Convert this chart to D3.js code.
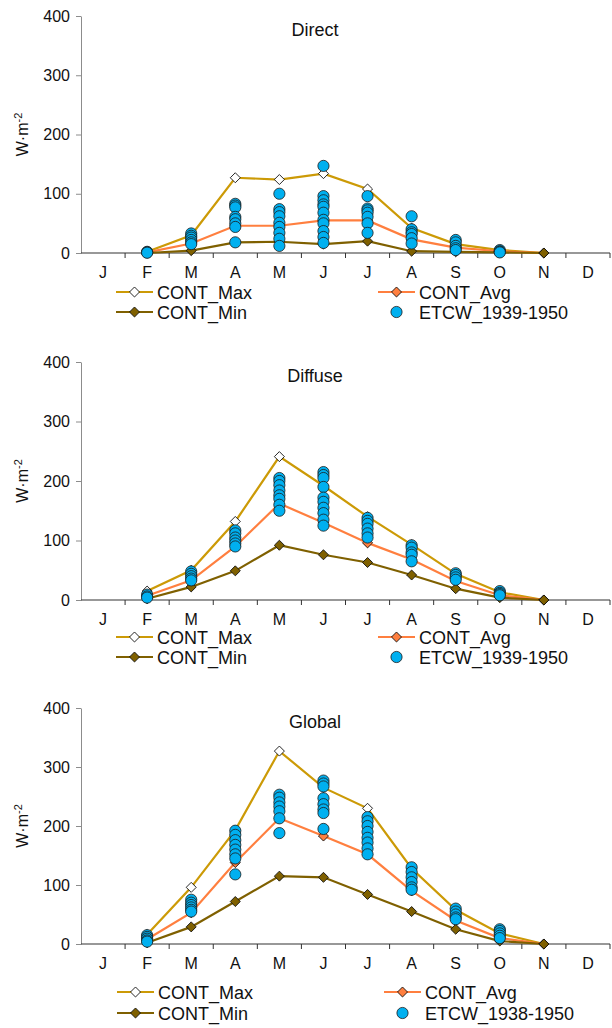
<!DOCTYPE html>
<html>
<head>
<meta charset="utf-8">
<script src="https://cdn.jsdelivr.net/npm/d3@7"></script>
<style>
  body { margin: 0; background: #fff; }
  svg { font-family: "Liberation Sans", Arial, sans-serif; }
</style>
</head>
<body>
<svg id="chart" width="612" height="1028"></svg>
<script>
// Month categories (values for J and D are missing)
const months = ["J", "F", "M", "A", "M", "J", "J", "A", "S", "O", "N", "D"];
const yTicks = [0, 100, 200, 300, 400];

// Direct
const directMax = [null, 2, 30, 127, 124, 134, 108, 42, 15, 5, 0, null];
const directAvg = [null, 1, 16, 46, 46, 55, 55, 23, 9, 3, 0, null];
const directMin = [null, 0, 4, 18, 19, 15, 20, 3, 2, 1, 0, null];
const directEtcw = [[], [2, 1, 0.5], [33, 29, 26, 22, 18, 15], [83, 80, 77, 61, 57, 50, 44, 18],
  [100, 74, 69, 62, 51, 44, 34, 24, 12], [147, 96, 89, 82, 78, 68, 56, 50, 37, 27, 17],
  [96, 75, 72, 68, 61, 50, 34], [62, 40, 35, 32, 25, 16], [22, 18, 12, 8, 5], [5, 3, 2, 1], [], []];

// Diffuse
const diffuseMax = [null, 15, 50, 132, 241, 192, 140, 93, 44, 13, 0, null];
const diffuseAvg = [null, 7, 33, 90, 162, 130, 96, 68, 32, 8, 0, null];
const diffuseMin = [null, 2, 22, 49, 92, 76, 63, 42, 19, 4, 0, null];
const diffuseEtcw = [[], [9, 6, 4], [48, 44, 40, 36, 33], [117, 112, 105, 100, 95, 90],
  [205, 200, 193, 184, 176, 170, 160, 150], [215, 210, 205, 190, 172, 165, 155, 146, 135, 125],
  [138, 133, 128, 120, 112, 105], [92, 88, 80, 76, 65], [45, 42, 38, 34], [15, 12, 10, 8], [], []];

// Global
const globalMax = [null, 16, 96, 193, 327, 265, 230, 128, 58, 18, 0, null];
const globalAvg = [null, 8, 53, 138, 213, 183, 152, 90, 40, 10, 0, null];
const globalMin = [null, 2, 29, 72, 115, 113, 84, 55, 25, 5, 0, null];
const globalEtcw = [[], [15, 12, 9, 6, 4], [75, 70, 66, 62, 58, 55], [192, 185, 176, 168, 160, 152, 145, 118],
  [253, 248, 240, 233, 225, 213, 188], [277, 272, 267, 247, 237, 228, 222, 195],
  [215, 208, 200, 190, 180, 172, 162, 152], [130, 122, 113, 105, 96, 92], [60, 55, 50, 45, 42],
  [25, 22, 18, 14, 10], [], []];

const panels = [
  { title: "Direct", max: directMax, avg: directAvg, min: directMin, etcw: directEtcw,
    etcwLabel: "ETCW_1939-1950", top: 16, bottom: 253, legY: [292, 312], legX: [116, 378] },
  { title: "Diffuse", max: diffuseMax, avg: diffuseAvg, min: diffuseMin, etcw: diffuseEtcw,
    etcwLabel: "ETCW_1939-1950", top: 362, bottom: 600, legY: [637, 657], legX: [116, 378] },
  { title: "Global", max: globalMax, avg: globalAvg, min: globalMin, etcw: globalEtcw,
    etcwLabel: "ETCW_1938-1950", top: 708, bottom: 944, legY: [992, 1013], legX: [117, 384] }
];

const colors = { max: "#CC9A06", avg: "#FF7F3F", min: "#7F6000", etcw: "#00B0F0" };
const left = 81, right = 610;

const svg = d3.select("#chart");
const x = d3.scaleBand().domain(d3.range(12)).range([left, right]);
const diamond = d3.symbol().type(d3.symbolDiamond2).size(64);

function drawDiamond(g, cx, cy, fill) {
  g.append("path")
    .attr("d", diamond)
    .attr("transform", `translate(${cx},${cy})`)
    .attr("fill", fill)
    .attr("stroke", "#111")
    .attr("stroke-width", 0.9);
}

panels.forEach((p) => {
  const g = svg.append("g");
  const y = d3.scaleLinear().domain([0, 400]).range([p.bottom, p.top]);

  // y axis
  const yAxis = g.append("g")
    .attr("transform", `translate(${left},0)`)
    .call(d3.axisLeft(y).tickValues(yTicks).tickSize(5).tickSizeOuter(0).tickPadding(6));
  yAxis.select(".domain").attr("stroke", "#8c8c8c");
  yAxis.selectAll(".tick line").attr("stroke", "#8c8c8c");
  yAxis.selectAll("text").attr("font-size", 16).attr("fill", "#111")
    .attr("font-family", "Liberation Sans, Arial, sans-serif");

  // x axis: line, ticks at category boundaries, month labels
  g.append("line")
    .attr("x1", left).attr("x2", right)
    .attr("y1", y(0)).attr("y2", y(0))
    .attr("stroke", "#333").attr("stroke-width", 1.2);
  g.selectAll(".xtick")
    .data(d3.range(1, 13))
    .join("line")
    .attr("x1", (i) => i < 12 ? x(i) : right)
    .attr("x2", (i) => i < 12 ? x(i) : right)
    .attr("y1", y(0)).attr("y2", y(0) + 5)
    .attr("stroke", "#333");
  g.selectAll(".month")
    .data(months)
    .join("text")
    .attr("x", (d, i) => x(i) + x.bandwidth() / 2)
    .attr("y", y(0) + 25)
    .attr("text-anchor", "middle")
    .attr("font-size", 16)
    .attr("fill", "#111")
    .text((d) => d);

  // axis title
  const yl = g.append("text")
    .attr("transform", `translate(28,${(p.top + p.bottom) / 2}) rotate(-90)`)
    .attr("text-anchor", "middle")
    .attr("font-size", 16)
    .attr("fill", "#111");
  yl.append("tspan").text("W·m");
  yl.append("tspan").attr("font-size", 11).attr("dy", -6).text("-2");

  // chart title
  g.append("text")
    .attr("x", 315).attr("y", p.top + 20)
    .attr("text-anchor", "middle")
    .attr("font-size", 18)
    .attr("fill", "#111")
    .text(p.title);

  const cx = (i) => x(i) + x.bandwidth() / 2;
  const line = d3.line()
    .defined((d) => d != null)
    .x((d, i) => cx(i))
    .y((d) => y(d));

  const series = [
    { key: "max", values: p.max, fill: "#fff" },
    { key: "avg", values: p.avg, fill: colors.avg },
    { key: "min", values: p.min, fill: colors.min }
  ];

  series.forEach((s) => {
    g.append("path")
      .datum(s.values)
      .attr("d", line)
      .attr("fill", "none")
      .attr("stroke", colors[s.key])
      .attr("stroke-width", 2.2);
  });
  series.forEach((s) => {
    s.values.forEach((v, i) => {
      if (v != null) drawDiamond(g, cx(i), y(v), s.fill);
    });
  });

  // ETCW scatter
  const pts = [];
  p.etcw.forEach((vals, i) => vals.forEach((v) => pts.push({ i, v })));
  g.selectAll(".etcw")
    .data(pts)
    .join("circle")
    .attr("cx", (d) => cx(d.i))
    .attr("cy", (d) => y(d.v))
    .attr("r", 5.6)
    .attr("fill", colors.etcw)
    .attr("stroke", "#1a1a1a")
    .attr("stroke-width", 0.8);

  // legend
  const leg = [
    { label: "CONT_Max", key: "max", fill: "#fff", lx: p.legX[0], ly: p.legY[0] },
    { label: "CONT_Avg", key: "avg", fill: colors.avg, lx: p.legX[1], ly: p.legY[0] },
    { label: "CONT_Min", key: "min", fill: colors.min, lx: p.legX[0], ly: p.legY[1] }
  ];
  leg.forEach((l) => {
    g.append("line")
      .attr("x1", l.lx).attr("x2", l.lx + 37)
      .attr("y1", l.ly).attr("y2", l.ly)
      .attr("stroke", colors[l.key]).attr("stroke-width", 2.2);
    drawDiamond(g, l.lx + 18.5, l.ly, l.fill);
    g.append("text")
      .attr("x", l.lx + 41).attr("y", l.ly + 6.5)
      .attr("font-size", 18)
      .attr("fill", "#111")
      .text(l.label);
  });
  g.append("circle")
    .attr("cx", p.legX[1] + 18.5).attr("cy", p.legY[1])
    .attr("r", 5.6)
    .attr("fill", colors.etcw)
    .attr("stroke", "#1a1a1a")
    .attr("stroke-width", 0.8);
  g.append("text")
    .attr("x", p.legX[1] + 41).attr("y", p.legY[1] + 6.5)
    .attr("font-size", 18)
    .attr("fill", "#111")
    .text(p.etcwLabel);
});
</script>
</body>
</html>
